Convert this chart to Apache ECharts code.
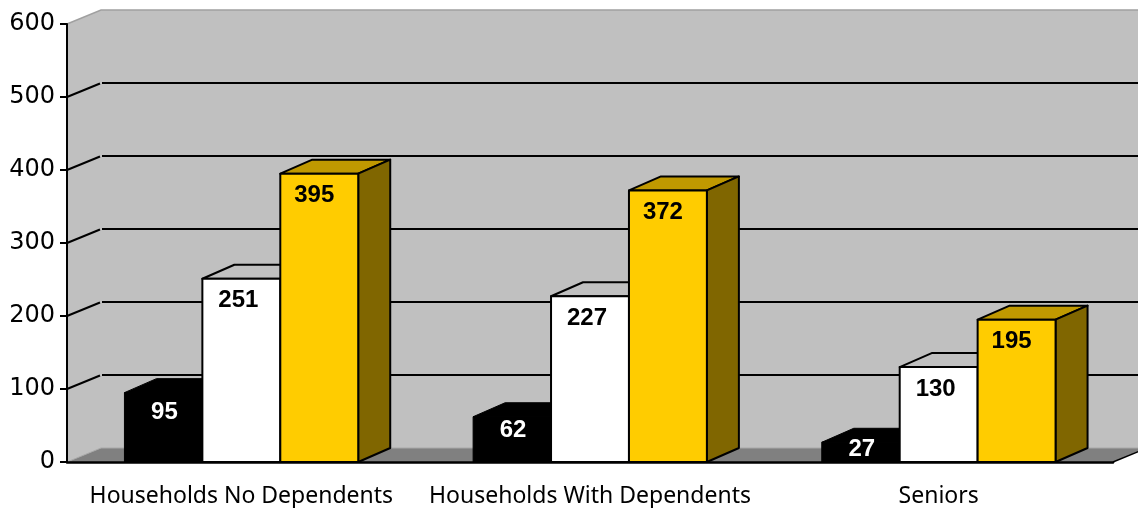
<!DOCTYPE html>
<html>
<head>
<meta charset="utf-8">
<style>
	html, body { margin: 0; padding: 0; background: #fff; }
	#main { width: 1138px; height: 508px; }
</style>
<script src="https://cdn.jsdelivr.net/npm/echarts@6/dist/echarts.min.js"></script>
</head>
<body>
<div id="main"></div>
<script>
var categories = ['Households No Dependents', 'Households With Dependents', 'Seniors'];
var blackValues = [95, 62, 27];
var whiteValues = [251, 227, 130];
var goldValues = [395, 372, 195];
var gridValues = [100, 200, 300, 400, 500];

/*3d depth of the walls and of the bars*/
var wallDx = 34, wallDy = 14;
var barDx = 32, barDy = 14;

function renderWalls(params, api) {
	var o = api.coord([0, 0]);
	var band = api.size([1, 0])[0];
	var x0 = o[0] - band / 2;
	var x1 = x0 + band * categories.length;
	var y0 = o[1];
	var yTop = api.coord([0, 600])[1];
	var children = [{
		type: 'polygon',
		shape: { points: [[x0, yTop], [x0 + wallDx, yTop - wallDy], [x1 + wallDx, yTop - wallDy], [x1 + wallDx, y0 - wallDy], [x0 + wallDx, y0 - wallDy], [x0, y0]] },
		style: { fill: '#c0c0c0' }
	}, {
		type: 'polygon',
		shape: { points: [[x0, y0], [x0 + wallDx, y0 - wallDy], [x1 + wallDx, y0 - wallDy], [x1, y0]] },
		style: { fill: '#808080' }
	}, {
		type: 'polyline',
		shape: { points: [[x0, yTop], [x0 + wallDx, yTop - wallDy], [x1 + wallDx, yTop - wallDy]] },
		style: { fill: 'none', stroke: '#a0a0a0', lineWidth: 1.5 }
	}, {
		type: 'polyline',
		shape: { points: [[x0, y0], [x0 + wallDx, y0 - wallDy], [x1 + wallDx, y0 - wallDy]] },
		style: { fill: 'none', stroke: '#a8a8a8', lineWidth: 1 }
	}, {
		type: 'line',
		shape: { x1: x1, y1: y0, x2: x1 + wallDx, y2: y0 - wallDy },
		style: { stroke: '#000', lineWidth: 1.5 }
	}];
	for(var i = 0; i < gridValues.length; i++) {
		var y = api.coord([0, gridValues[i]])[1];
		children.push({
			type: 'line',
			shape: { x1: x0, y1: y, x2: x0 + wallDx - 1, y2: y - wallDy + 0.5 },
			style: { stroke: '#000', lineWidth: 2 }
		});
		children.push({
			type: 'line',
			shape: { x1: x0 + wallDx + 1, y1: y - wallDy, x2: x1 + wallDx, y2: y - wallDy },
			style: { stroke: '#000', lineWidth: 2 }
		});
	}
	return { type: 'group', children: children };
}

function barRenderer(slot, front, top, side, edgeWidth, textColor) {
	return function(params, api) {
		var p = api.coord([api.value(0), api.value(1)]);
		var base = api.coord([api.value(0), 0])[1];
		var band = api.size([1, 0])[0];
		var w = band * 0.2235;
		var left = p[0] + (slot - 1.5) * w;
		var right = left + w;
		var y = p[1];
		var h = base - y;
		var line = { stroke: '#000', lineWidth: edgeWidth, lineJoin: 'round' };
		return {
			type: 'group',
			children: [{
				type: 'polygon',
				shape: { points: [[left, y], [left + barDx, y - barDy], [right + barDx, y - barDy], [right, y]] },
				style: Object.assign({ fill: top }, line)
			}, {
				type: 'polygon',
				shape: { points: [[right, y], [right + barDx, y - barDy], [right + barDx, base - barDy], [right, base]] },
				style: Object.assign({ fill: side }, line)
			}, {
				type: 'rect',
				shape: { x: left, y: y, width: w, height: h },
				style: Object.assign({ fill: front }, line)
			}, {
				type: 'text',
				style: {
					x: left + w / 2 + [1, -3, -5][slot],
					y: y + 2 + Math.min(20, h * 0.25),
					text: String(api.value(1)),
					fill: textColor,
					font: 'bold 24px "Liberation Sans"',
					align: 'center',
					verticalAlign: 'middle'
				}
			}]
		};
	};
}

function seriesData(values) {
	var out = [];
	for(var i = 0; i < values.length; i++) {
		out.push([i, values[i]]);
	}
	return out;
}

var Chart = echarts.init(document.getElementById('main'), null, { renderer: 'canvas' });
var option = {
	animation: false,
	backgroundColor: '#fff',
	grid: {
		left: 67,
		right: 25,
		top: 24,
		bottom: 45
	},
	xAxis: {
		type: 'category',
		data: categories,
		z: 5,
		axisLine: { lineStyle: { color: '#000', width: 2.5 } },
		axisTick: { length: 6, lineStyle: { color: '#000', width: 1.5 } },
		axisLabel: {
			interval: 0,
			margin: 23,
			color: '#000',
			fontFamily: 'Noto Sans',
			fontSize: 23
		}
	},
	yAxis: {
		type: 'value',
		min: 0,
		max: 600,
		interval: 100,
		z: 5,
		splitLine: { show: false },
		axisLine: { show: true, lineStyle: { color: '#000', width: 2 } },
		axisTick: { show: true, length: 7, lineStyle: { color: '#000', width: 2 } },
		axisLabel: {
			margin: 12,
			color: '#000',
			fontFamily: 'DejaVu Sans',
			fontSize: 24,
			padding: [0, 0, 6, 0]
		}
	},
	series: [{
		type: 'custom',
		z: 1,
		silent: true,
		renderItem: renderWalls,
		encode: { x: 0, y: 1 },
		data: [[0, 0]]
	}, {
		type: 'custom',
		z: 2,
		renderItem: barRenderer(0, '#000', '#000', '#000', 1, '#fff'),
		encode: { x: 0, y: 1 },
		data: seriesData(blackValues)
	}, {
		type: 'custom',
		z: 3,
		renderItem: barRenderer(1, '#fff', '#c0c0c0', '#808080', 2, '#000'),
		encode: { x: 0, y: 1 },
		data: seriesData(whiteValues)
	}, {
		type: 'custom',
		z: 4,
		renderItem: barRenderer(2, '#ffcc00', '#c09900', '#806600', 2, '#000'),
		encode: { x: 0, y: 1 },
		data: seriesData(goldValues)
	}]
};
Chart.setOption(option);
</script>
</body>
</html>
